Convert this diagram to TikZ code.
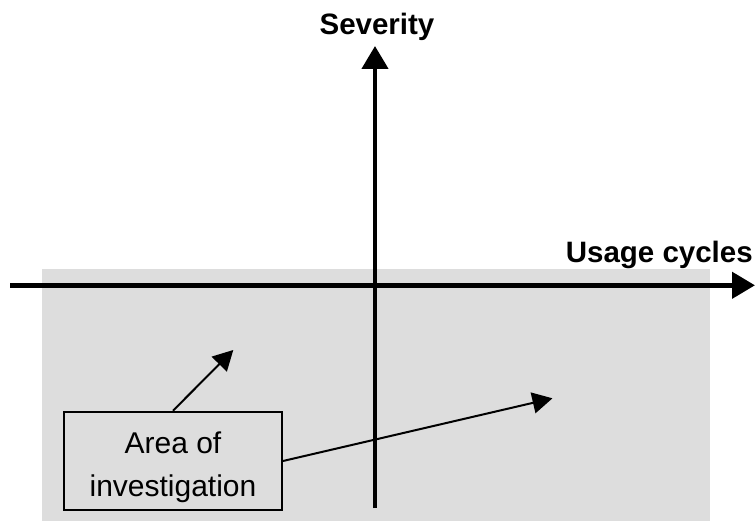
\documentclass[tikz,border=0pt]{standalone}
\usepackage{fontspec}
\setmainfont{Liberation Sans}
\usetikzlibrary{arrows.meta}
\definecolor{areagray}{RGB}{221,221,221}
\tikzset{
  axisline/.style={line width=4.5pt, -{Triangle[length=23pt,width=26pt]}},
  thinarrow/.style={line width=2pt, -{Triangle[length=20pt,width=21pt]}},
  axislabel/.style={inner sep=0pt, font=\fontsize{29.5}{36}\selectfont\bfseries},
  areabox/.style={draw, line width=2pt, inner sep=0pt, minimum width=218pt, minimum height=98.5pt},
  boxtext/.style={inner sep=0pt, align=center, font=\fontsize{30}{43}\selectfont}
}
\begin{document}
\begin{tikzpicture}[x=1pt,y=-1pt]
\useasboundingbox (0,0) rectangle (755,521);
% shaded area
\fill[areagray] (42,269) rectangle (710,521);
% axes
\coordinate (xstart) at (10,285.3);
\coordinate (xend) at (755,285.3);
\coordinate (ystart) at (375,508);
\coordinate (yend) at (375,46);
\draw[axisline] (xstart) -- (xend);
\draw[axisline] (ystart) -- (yend);
% axis labels
\node[axislabel, anchor=base] (sev) at (377,35) {Severity};
\node[axislabel, anchor=base east] (usage) at (753,263) {Usage cycles};
% box
\node[areabox] (box) at (173,461) {};
\node[boxtext] (boxlabel) at (173,467.6) {Area of\\investigation};
% pointers
\coordinate (tip1) at (233.3,350);
\coordinate (tip2) at (552.5,398.3);
\draw[thinarrow] (box.north) -- (tip1);
\draw[thinarrow] (box.east) -- (tip2);
\end{tikzpicture}
\end{document}
